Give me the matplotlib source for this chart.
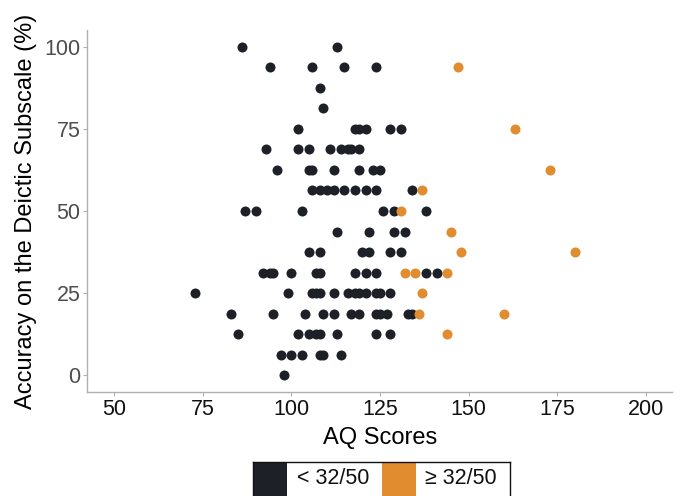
import matplotlib
matplotlib.use("Agg")
import matplotlib.pyplot as plt
from matplotlib.patches import Rectangle

plt.rcParams['font.family'] = ['Liberation Sans', 'DejaVu Sans']

# ---- data: (AQ score, accuracy %) ----
low_aq = [86, 113,
          94, 106, 115, 124,
          108, 109,
          102, 118, 119, 121, 128, 131,
          93, 102, 105, 111, 114, 116, 117, 119,
          96, 105, 106, 112, 119, 123, 125,
          106, 108, 110, 112, 115, 118, 121, 124, 134,
          87, 90, 103, 126, 129, 138,
          113, 122, 129, 132,
          105, 108, 120, 122, 128, 131,
          92, 94, 95, 100, 107, 108, 118, 121, 124, 138, 141,
          73, 99, 106, 107, 108, 112, 116, 118, 119, 121, 124, 125, 128,
          83, 95, 104, 109, 112, 117, 119, 124, 125, 127, 133, 134,
          85, 102, 105, 107, 108, 113, 124, 128,
          97, 100, 103, 108, 109, 114,
          98]
low_acc = [100, 100,
           93.75, 93.75, 93.75, 93.75,
           87.5, 81.25,
           75, 75, 75, 75, 75, 75,
           68.75, 68.75, 68.75, 68.75, 68.75, 68.75, 68.75, 68.75,
           62.5, 62.5, 62.5, 62.5, 62.5, 62.5, 62.5,
           56.25, 56.25, 56.25, 56.25, 56.25, 56.25, 56.25, 56.25, 56.25,
           50, 50, 50, 50, 50, 50,
           43.75, 43.75, 43.75, 43.75,
           37.5, 37.5, 37.5, 37.5, 37.5, 37.5,
           31.25, 31.25, 31.25, 31.25, 31.25, 31.25, 31.25, 31.25, 31.25, 31.25, 31.25,
           25, 25, 25, 25, 25, 25, 25, 25, 25, 25, 25, 25, 25,
           18.75, 18.75, 18.75, 18.75, 18.75, 18.75, 18.75, 18.75, 18.75, 18.75, 18.75, 18.75,
           12.5, 12.5, 12.5, 12.5, 12.5, 12.5, 12.5, 12.5,
           6.25, 6.25, 6.25, 6.25, 6.25, 6.25,
           0]

high_aq = [147, 163, 173, 137, 131, 145, 148, 180, 132, 135, 144, 137, 136, 160, 144]
high_acc = [93.75, 75, 62.5, 56.25, 50, 43.75, 37.5, 37.5, 31.25, 31.25, 31.25, 25, 18.75, 18.75, 12.5]

x_ticks = [50, 75, 100, 125, 150, 175, 200]
y_ticks = [0, 25, 50, 75, 100]
legend_labels = ["< 32/50", "\u2265 32/50"]

c_low = "#1d2027"
c_high = "#e08c2f"

W, H = 680, 496
fig = plt.figure(figsize=(W / 100, H / 100), dpi=100)
ax = fig.add_axes([87.3 / W, 1 - 391.7 / H, (672.4 - 87.3) / W, (391.7 - 30.3) / H])

ax.scatter(low_aq, low_acc, s=52, color=c_low, linewidths=0, zorder=3)
ax.scatter(high_aq, high_acc, s=52, color=c_high, linewidths=0, zorder=3)

ax.set_xlim(42.5, 207.5)
ax.set_ylim(-5, 105)
ax.set_xticks(x_ticks)
ax.set_yticks(y_ticks)
for s in ["top", "right"]:
    ax.spines[s].set_visible(False)
for s in ["left", "bottom"]:
    ax.spines[s].set_color("#b0b0b0")
    ax.spines[s].set_linewidth(1.0)
ax.tick_params(axis="both", length=3, width=0.8, color="#b0b0b0", labelsize=15.5, pad=2)
ax.tick_params(axis="x", labelcolor="#111111")
ax.tick_params(axis="y", labelcolor="#4d4d4d")

ax.set_xlabel("AQ Scores", fontsize=17, labelpad=5)
ax.set_ylabel("Accuracy on the Deictic Subscale (%)", fontsize=17, labelpad=5)

# ---- legend ----
lx0, lx1 = 252.7, 510.0
ly0, ly1 = 461.7, 497.0
lax = fig.add_axes([lx0 / W, 1 - ly1 / H, (lx1 - lx0) / W, (ly1 - ly0) / H])
lax.set_xlim(lx0, lx1)
lax.set_ylim(ly1, ly0)
lax.set_xticks([])
lax.set_yticks([])
for s in lax.spines.values():
    s.set_color("#111111")
    s.set_linewidth(1.0)
key_left = [252.7, 381.7]
text_left = [296.7, 425.0]
for kl, tl, col, lab in zip(key_left, text_left, [c_low, c_high], legend_labels):
    lax.add_patch(Rectangle((kl, ly0), 34.0, ly1 - ly0, color=col, linewidth=0))
    lax.text(tl, 478.5, lab, fontsize=15.5, color="#111111", va="center", ha="left")

fig.savefig("out.png", dpi=100)
